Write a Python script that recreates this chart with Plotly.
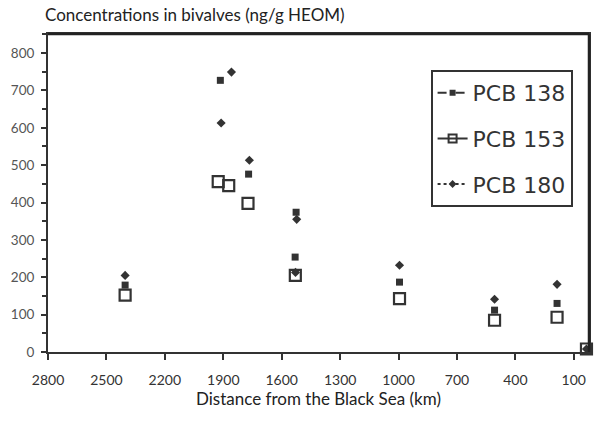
import plotly.graph_objects as go

# Distance from the Black Sea (km) and concentrations (ng/g HEOM)
pcb138_x = [2404, 1915, 1770, 1526, 1531, 995, 507, 186]
pcb138_y = [179, 727, 476, 374, 254, 187, 112, 130]

pcb153_x = [2404, 1926, 1872, 1773, 1530, 995, 507, 186, 35]
pcb153_y = [152, 456, 445, 398, 205, 143, 85, 93, 8]

pcb180_x = [2404, 1911, 1858, 1766, 1523, 1529, 995, 507, 186, 35]
pcb180_y = [205, 613, 749, 513, 355, 213, 232, 141, 181, 8]

x_ticks = [2800, 2500, 2200, 1900, 1600, 1300, 1000, 700, 400, 100]
y_ticks = [0, 100, 200, 300, 400, 500, 600, 700, 800]

INK = "#333333"
FONT = "Lato, 'Noto Sans', sans-serif"

fig = go.Figure()

fig.add_trace(go.Scatter(x=pcb138_x, y=pcb138_y, mode="markers", showlegend=False,
                         marker=dict(symbol="square", size=7, color=INK), cliponaxis=False))
fig.add_trace(go.Scatter(x=pcb153_x, y=pcb153_y, mode="markers", showlegend=False,
                         marker=dict(symbol="square-open", size=11, color=INK,
                                     line=dict(width=2.2, color=INK)), cliponaxis=False))
fig.add_trace(go.Scatter(x=pcb180_x, y=pcb180_y, mode="markers", showlegend=False,
                         marker=dict(symbol="diamond", size=7, color=INK), cliponaxis=False))

# legend entries
fig.add_trace(go.Scatter(x=[None], y=[None], mode="lines+markers", name="PCB 138",
                         legendgroup="a",
                         line=dict(color=INK, width=2, dash="dash"),
                         marker=dict(symbol="square", size=6, color=INK)))
fig.add_trace(go.Scatter(x=[None], y=[None], mode="lines+markers", name="PCB 153",
                         legendgroup="b",
                         line=dict(color=INK, width=2),
                         marker=dict(symbol="square-open", size=8, color=INK,
                                     line=dict(width=2, color=INK))))
fig.add_trace(go.Scatter(x=[None], y=[None], mode="lines+markers", name="PCB 180",
                         legendgroup="c",
                         line=dict(color=INK, width=2, dash="dot"),
                         marker=dict(symbol="diamond", size=6, color=INK)))

X_RANGE = [2800, 22]
Y_RANGE = [0, 851]

fig.update_layout(
    width=599, height=431,
    margin=dict(l=48, r=8, t=34, b=79),
    paper_bgcolor="white", plot_bgcolor="white",
    font=dict(family=FONT, color=INK),
    title=dict(text="Concentrations in bivalves (ng/g HEOM)",
               x=45 / 599, xref="container", xanchor="left",
               y=1 - 15 / 431, yref="container", yanchor="middle",
               font=dict(size=17, color="#222", family=FONT)),
    xaxis=dict(range=X_RANGE, tickvals=x_ticks, ticktext=[str(v) for v in x_ticks],
               showgrid=False, zeroline=False, showline=True, linewidth=2,
               linecolor=INK, mirror=True, ticks="outside", ticklen=6,
               tickwidth=2, tickcolor=INK, ticklabelstandoff=8,
               tickfont=dict(size=14, color="#333"),
               title=dict(text="Distance from the Black Sea (km)",
                          font=dict(size=17, color="#222"), standoff=2)),
    yaxis=dict(range=Y_RANGE, tickvals=y_ticks, showgrid=False, zeroline=False,
               showline=True, linewidth=2, linecolor=INK, mirror=True,
               ticks="outside", ticklen=5, tickwidth=2, tickcolor=INK,
               ticklabelstandoff=4,
               minor=dict(dtick=50, tick0=0, ticks="outside", ticklen=4,
                          tickwidth=1.5, tickcolor=INK, showgrid=False),
               tickfont=dict(size=13.5, color="#555")),
    legend=dict(x=(432 - 48) / 543, y=(352 - 70) / 318, xanchor="left", yanchor="top",
                bordercolor=INK, borderwidth=2, bgcolor="white",
                font=dict(size=22, color="#333", family="'DejaVu Sans', sans-serif"),
                tracegroupgap=14),
    showlegend=True,
)

# top and right frame edges (axis-domain references)
fig.add_shape(type="line", xref="x domain", yref="y domain", x0=0, x1=1, y0=1, y1=1,
              line=dict(color="#222", width=2.5), layer="above")
fig.add_shape(type="line", xref="x domain", yref="y domain", x0=1, x1=1, y0=0, y1=1,
              line=dict(color="#222", width=2.5), layer="above")

fig.write_html("out.html", post_script="document.body.style.margin='0';",
               config={"displayModeBar": False})
